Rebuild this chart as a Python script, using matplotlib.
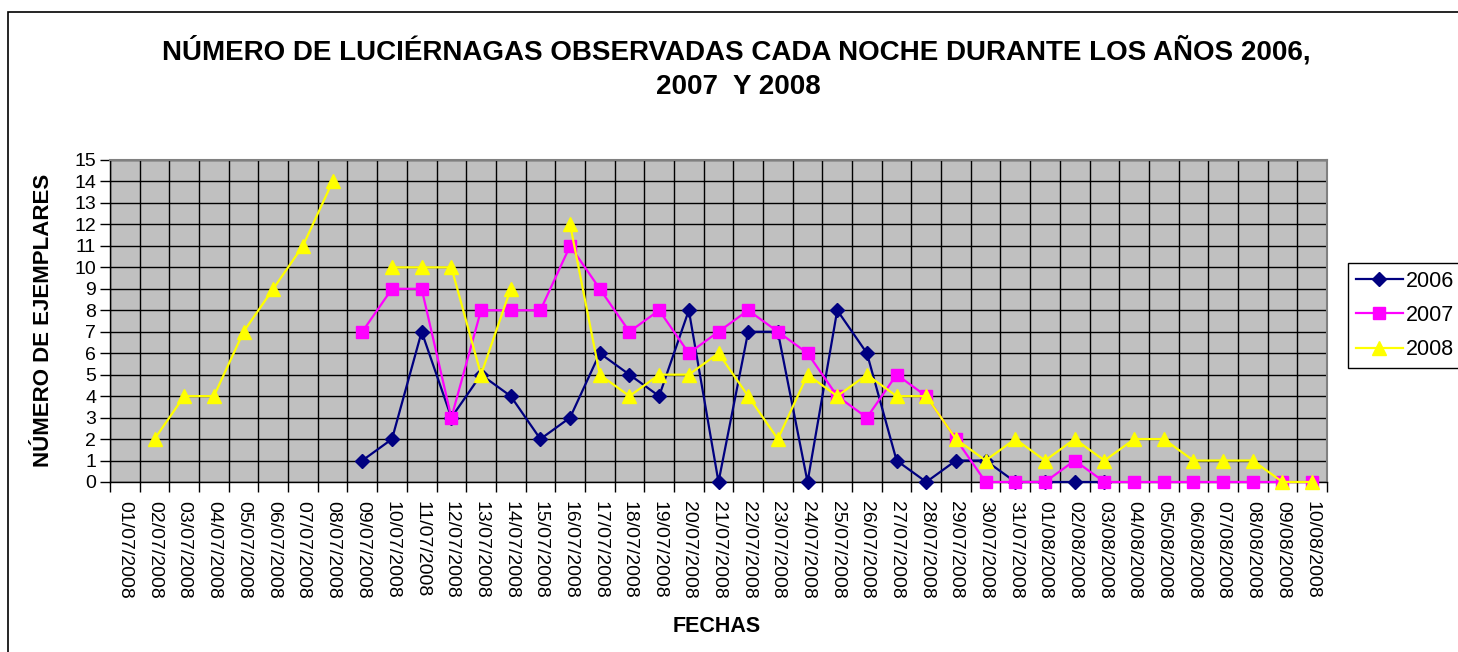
import numpy as np
import matplotlib
matplotlib.use("Agg")
import matplotlib.pyplot as plt
from matplotlib.patches import Rectangle

plt.rcParams['font.family'] = ['Liberation Sans', 'DejaVu Sans']

fechas = [
    "01/07/2008", "02/07/2008", "03/07/2008", "04/07/2008", "05/07/2008",
    "06/07/2008", "07/07/2008", "08/07/2008", "09/07/2008", "10/07/2008",
    "11/07/2008", "12/07/2008", "13/07/2008", "14/07/2008", "15/07/2008",
    "16/07/2008", "17/07/2008", "18/07/2008", "19/07/2008", "20/07/2008",
    "21/07/2008", "22/07/2008", "23/07/2008", "24/07/2008", "25/07/2008",
    "26/07/2008", "27/07/2008", "28/07/2008", "29/07/2008", "30/07/2008",
    "31/07/2008", "01/08/2008", "02/08/2008", "03/08/2008", "04/08/2008",
    "05/08/2008", "06/08/2008", "07/08/2008", "08/08/2008", "09/08/2008",
    "10/08/2008",
]

N = np.nan
s2006 = [N, N, N, N, N, N, N, N, 1, 2,
         7, 3, 5, 4, 2, 3, 6, 5, 4, 8,
         0, 7, 7, 0, 8, 6, 1, 0, 1, 1,
         0, 0, 0, 0, N, N, N, N, N, N,
         N]
s2007 = [N, N, N, N, N, N, N, N, 7, 9,
         9, 3, 8, 8, 8, 11, 9, 7, 8, 6,
         7, 8, 7, 6, 4, 3, 5, 4, 2, 0,
         0, 0, 1, 0, 0, 0, 0, 0, 0, 0,
         0]
s2008 = [N, 2, 4, 4, 7, 9, 11, 14, N, 10,
         10, 10, 5, 9, N, 12, 5, 4, 5, 5,
         6, 4, 2, 5, 4, 5, 4, 4, 2, 1,
         2, 1, 2, 1, 2, 2, 1, 1, 1, 0,
         0]

W, H = 1458, 652
fig = plt.figure(figsize=(W / 100, H / 100), dpi=100)

# chart area border
fig.patches.append(Rectangle((8 / W, -0.1), 1.2, 1.1 - 12 / H,
                             transform=fig.transFigure, fill=False,
                             edgecolor='black', linewidth=1.2))

left, right, top, bottom = 110, 1327, 160, 482
ax = fig.add_axes([left / W, 1 - bottom / H, (right - left) / W, (bottom - top) / H])
ax.set_facecolor('#C0C0C0')

x = np.arange(len(fechas))
l1, = ax.plot(x, s2006, color='#000080', marker='D', markersize=7, linewidth=1.6,
              label='2006', zorder=3)
l2, = ax.plot(x, s2007, color='#FF00FF', marker='s', markersize=9, linewidth=1.6,
              label='2007', zorder=4)
l3, = ax.plot(x, s2008, color='#FFFF00', marker='^', markersize=10, linewidth=1.6,
              label='2008', zorder=5)
for ln in (l1, l2, l3):
    ln.set_clip_on(False)

ax.set_xlim(-0.5, len(fechas) - 0.5)
ax.set_ylim(0, 15)
ax.set_yticks(range(16))
ax.set_xticks(x)
ax.set_xticklabels(fechas, rotation=-90, fontsize=14)
ax.set_xticks(np.arange(-0.5, len(fechas)), minor=True)
ax.tick_params(axis='x', which='major', length=0, pad=14)
ax.tick_params(axis='x', which='minor', length=7, width=1.0, direction='out')
ax.tick_params(axis='y', which='major', length=7, width=1.0, direction='out',
               labelsize=14, pad=3)
ax.grid(True, axis='y', which='major', color='black', linewidth=1.0, zorder=1)
ax.grid(True, axis='x', which='minor', color='black', linewidth=1.0, zorder=1)
ax.set_axisbelow(True)

for side in ('top', 'right'):
    ax.spines[side].set_color('#808080')
    ax.spines[side].set_linewidth(1.5)
for side in ('left', 'bottom'):
    ax.spines[side].set_color('black')
    ax.spines[side].set_linewidth(1.0)

fig.text(736 / W, 1 - 51 / H,
         "NÚMERO DE LUCIÉRNAGAS OBSERVADAS CADA NOCHE DURANTE LOS AÑOS 2006,",
         ha='center', va='center', fontsize=20, fontweight='bold')
fig.text(738 / W, 1 - 87 / H, "2007  Y 2008",
         ha='center', va='center', fontsize=20, fontweight='bold')

fig.text(44 / W, 1 - 320 / H, "NÚMERO DE EJEMPLARES", rotation=90,
         ha='center', va='center', fontsize=16, fontweight='bold')
fig.text(717 / W, 1 - 627 / H, "FECHAS", ha='center', va='center',
         fontsize=15.5, fontweight='bold')

leg = fig.legend(handles=[l1, l2, l3], labels=['2006', '2007', '2008'],
                 loc='upper left', bbox_to_anchor=(1348 / W, 1 - 263 / H),
                 fontsize=15.5, frameon=True, fancybox=False, edgecolor='black',
                 framealpha=1, handlelength=2.2, handletextpad=0.12,
                 borderpad=0.35, labelspacing=0.62, borderaxespad=0)
leg.get_frame().set_linewidth(1.0)

fig.savefig("out.png", dpi=100)
